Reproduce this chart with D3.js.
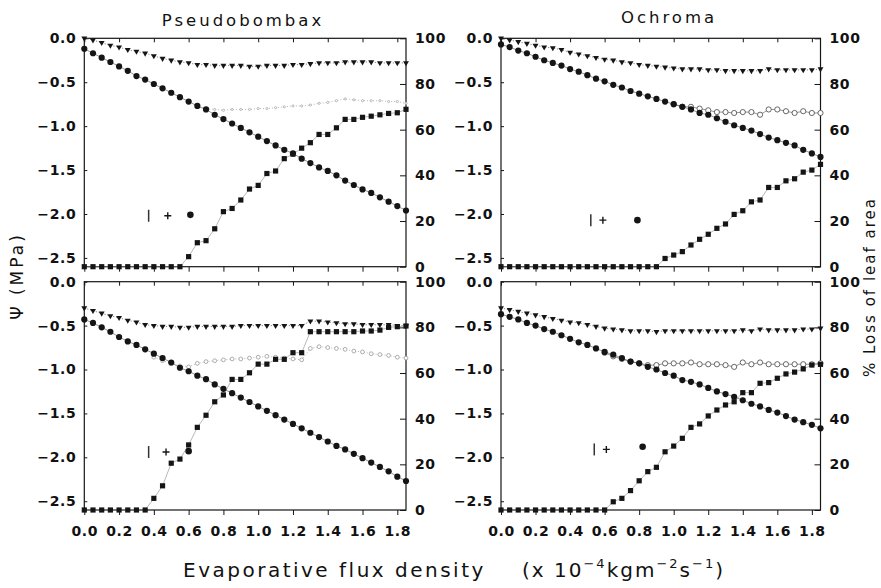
<!DOCTYPE html>
<html>
<head>
<meta charset="utf-8">
<script src="https://cdn.jsdelivr.net/npm/d3@7"></script>
<style>
  body { margin: 0; background: #fff; }
  svg { display: block; }
  text { font-family: "DejaVu Sans", sans-serif; fill: #111; }
</style>
</head>
<body>
<svg id="chart" width="881" height="588"></svg>
<script>
// Evaporative flux density (x 10^-4 kg m^-2 s^-1) at which each reading was taken
const flux = [0.00,0.05,0.10,0.15,0.20,0.25,0.30,0.35,0.40,0.45,0.50,0.55,0.60,0.65,0.70,0.75,0.80,0.85,0.90,0.95,
              1.00,1.05,1.10,1.15,1.20,1.25,1.30,1.35,1.40,1.45,1.50,1.55,1.60,1.65,1.70,1.75,1.80,1.85];

const fluxTicks = [0.0,0.2,0.4,0.6,0.8,1.0,1.2,1.4,1.6,1.8];
const psiTicks = [0.0,-0.5,-1.0,-1.5,-2.0,-2.5];
const lossTicks = [0,20,40,60,80,100];
const speciesNames = ["Pseudobombax", "Ochroma"];

// Pseudobombax, upper panel (Psi in MPa, loss in %)
const pseudoUpperTri = [0.00,-0.02,-0.05,-0.08,-0.10,-0.13,-0.15,-0.17,-0.20,-0.23,-0.25,-0.27,-0.28,-0.30,-0.30,-0.31,-0.31,-0.31,-0.31,-0.32,
                        -0.32,-0.31,-0.31,-0.31,-0.30,-0.30,-0.29,-0.28,-0.28,-0.28,-0.27,-0.27,-0.27,-0.27,-0.28,-0.28,-0.28,-0.28];
const pseudoUpperDot = [-0.12,-0.17,-0.22,-0.27,-0.32,-0.37,-0.43,-0.47,-0.52,-0.57,-0.62,-0.67,-0.72,-0.77,-0.81,-0.87,-0.92,-0.97,-1.02,-1.07,
                        -1.12,-1.17,-1.22,-1.27,-1.31,-1.37,-1.42,-1.47,-1.51,-1.56,-1.62,-1.67,-1.72,-1.76,-1.81,-1.86,-1.91,-1.96];
const pseudoUpperOpen = [null,null,null,null,null,null,null,null,null,null,null,null,null,-0.78,-0.80,-0.81,-0.82,-0.81,-0.81,-0.81,
                         -0.80,-0.80,-0.79,-0.78,-0.77,-0.77,-0.76,-0.74,-0.73,-0.71,-0.69,-0.70,-0.71,-0.71,-0.71,-0.72,-0.72,-0.74];
const pseudoUpperLoss = [0,0,0,0,0,0,0,0,0,0,0,0,4.4,10.5,11.4,16.6,24.1,25.5,29.2,34.0,
                         35.6,40.8,41.9,47.3,49.3,51.9,54.3,57.9,57.9,60.8,64.5,64.5,65.4,65.9,66.5,67.1,67.4,68.9];

// Ochroma, upper panel
const ochromaUpperTri = [0.00,-0.02,-0.04,-0.06,-0.08,-0.10,-0.11,-0.13,-0.16,-0.18,-0.20,-0.22,-0.24,-0.25,-0.27,-0.28,-0.30,-0.31,-0.32,-0.33,
                         -0.34,-0.35,-0.35,-0.35,-0.36,-0.36,-0.37,-0.37,-0.37,-0.37,-0.37,-0.35,-0.36,-0.36,-0.36,-0.36,-0.36,-0.35];
const ochromaUpperDot = [-0.07,-0.10,-0.14,-0.17,-0.21,-0.25,-0.28,-0.31,-0.35,-0.38,-0.42,-0.46,-0.49,-0.53,-0.56,-0.60,-0.63,-0.66,-0.69,-0.72,
                         -0.75,-0.78,-0.81,-0.85,-0.87,-0.91,-0.95,-0.99,-1.02,-1.05,-1.09,-1.13,-1.16,-1.19,-1.22,-1.27,-1.31,-1.35];
const ochromaUpperOpen = [null,null,null,null,null,null,null,null,null,null,null,null,null,null,null,null,null,null,null,null,
                          -0.75,-0.78,-0.78,-0.80,-0.82,-0.84,-0.84,-0.85,-0.84,-0.84,-0.87,-0.81,-0.81,-0.83,-0.85,-0.83,-0.85,-0.85];
const ochromaUpperLoss = [0,0,0,0,0,0,0,0,0,0,0,0,0,0,0,0,0,0,0,3.6,
                          5.1,6.6,9.5,12.0,14.2,16.8,18.7,22.9,24.5,28.4,29.2,34.7,34.7,37.6,38.5,41.4,42.3,44.8];

// Pseudobombax, lower panel
const pseudoLowerTri = [-0.30,-0.33,-0.36,-0.39,-0.41,-0.44,-0.46,-0.49,-0.50,-0.51,-0.51,-0.52,-0.52,-0.51,-0.51,-0.51,-0.51,-0.51,-0.50,-0.50,
                        -0.50,-0.50,-0.50,-0.50,-0.50,-0.50,-0.45,-0.45,-0.46,-0.47,-0.48,-0.48,-0.49,-0.49,-0.49,-0.49,-0.50,-0.50];
const pseudoLowerDot = [-0.43,-0.47,-0.52,-0.57,-0.63,-0.68,-0.72,-0.77,-0.82,-0.87,-0.92,-0.98,-1.02,-1.07,-1.11,-1.17,-1.22,-1.27,-1.32,-1.37,
                        -1.42,-1.47,-1.52,-1.57,-1.62,-1.67,-1.72,-1.77,-1.82,-1.87,-1.91,-1.96,-2.01,-2.06,-2.11,-2.16,-2.22,-2.27];
const pseudoLowerOpen = [null,null,null,null,null,null,null,null,-0.86,-0.90,-0.93,-0.96,-0.97,-0.93,-0.91,-0.90,-0.89,-0.88,-0.88,-0.87,
                         -0.86,-0.85,-0.86,-0.87,-0.88,-0.89,-0.76,-0.74,-0.75,-0.76,-0.77,-0.79,-0.80,-0.82,-0.83,-0.84,-0.86,-0.87];
const pseudoLowerLoss = [0,0,0,0,0,0,0,0,5.1,10.6,20.5,22.3,28.5,36.2,41.5,47.4,50.4,57.2,57.2,60.1,
                         63.9,63.9,66.0,66.0,68.9,68.9,78.1,78.1,78.1,78.1,78.1,78.1,78.4,78.4,78.8,80.0,80.3,80.6];

// Ochroma, lower panel
const ochromaLowerTri = [-0.30,-0.32,-0.34,-0.36,-0.38,-0.40,-0.42,-0.44,-0.46,-0.47,-0.49,-0.51,-0.53,-0.54,-0.55,-0.56,-0.56,-0.56,-0.57,-0.56,
                         -0.56,-0.56,-0.56,-0.56,-0.56,-0.56,-0.56,-0.56,-0.55,-0.56,-0.54,-0.55,-0.55,-0.55,-0.55,-0.54,-0.54,-0.53];
const ochromaLowerDot = [-0.37,-0.40,-0.43,-0.47,-0.50,-0.54,-0.57,-0.61,-0.65,-0.69,-0.72,-0.76,-0.80,-0.83,-0.87,-0.91,-0.93,-0.97,-1.00,-1.04,
                         -1.07,-1.12,-1.14,-1.17,-1.21,-1.25,-1.28,-1.31,-1.35,-1.39,-1.42,-1.46,-1.49,-1.53,-1.57,-1.60,-1.63,-1.67];
const ochromaLowerOpen = [null,null,null,null,null,null,null,null,null,null,null,null,-0.81,-0.85,-0.88,-0.91,-0.93,-0.95,-0.95,-0.93,
                          -0.93,-0.93,-0.92,-0.94,-0.94,-0.94,-0.95,-0.97,-0.92,-0.94,-0.92,-0.94,-0.94,-0.94,-0.94,-0.94,-0.94,-0.93];
const ochromaLowerLoss = [0,0,0,0,0,0,0,0,0,0,0,0,0,3.6,5.1,8.5,12.8,16.8,18.7,25.5,
                          28.0,31.4,36.2,37.7,41.2,43.8,46.0,47.4,51.4,51.4,55.5,55.8,57.7,59.6,60.4,61.8,63.5,63.8];

// Single reference marks in each panel (upper-left, upper-right, lower-left, lower-right)
const barMarkFlux  = [0.37, 0.52, 0.37, 0.54];
const barMarkPsi   = [-2.02, -2.07, -1.94, -1.91];
const plusMarkFlux = [0.48, 0.59, 0.47, 0.61];
const plusMarkPsi  = [-2.02, -2.07, -1.94, -1.91];
const dotMarkFlux  = [0.61, 0.79, 0.60, 0.82];
const dotMarkPsi   = [-2.01, -2.07, -1.93, -1.88];

// ---- layout ----
const colRange = [[84.3, 406], [501, 820.5]];
const rowRange = [[38.3, 266.7], [281.7, 510]];

const panels = [
  { col: 0, row: 0, tri: pseudoUpperTri, dot: pseudoUpperDot, open: pseudoUpperOpen, loss: pseudoUpperLoss, openStyle: "faint" },
  { col: 1, row: 0, tri: ochromaUpperTri, dot: ochromaUpperDot, open: ochromaUpperOpen, loss: ochromaUpperLoss, openStyle: "ring" },
  { col: 0, row: 1, tri: pseudoLowerTri, dot: pseudoLowerDot, open: pseudoLowerOpen, loss: pseudoLowerLoss, openStyle: "light" },
  { col: 1, row: 1, tri: ochromaLowerTri, dot: ochromaLowerDot, open: ochromaLowerOpen, loss: ochromaLowerLoss, openStyle: "ring" }
];

const svg = d3.select("#chart");
svg.append("rect").attr("width", 881).attr("height", 588).attr("fill", "#fff");

const ink = "#151515";
const fmt1 = d3.format(".1f");

panels.forEach((p, k) => {
  const [x0, x1] = colRange[p.col];
  const [y0, y1] = rowRange[p.row];
  const x = d3.scaleLinear().domain([0, 1.85]).range([x0, x1]);
  const yPsi = d3.scaleLinear().domain([-2.6, 0]).range([y1, y0]);
  const yLoss = d3.scaleLinear().domain([0, 100]).range([y1, y0]);

  const g = svg.append("g");

  // axes
  const styleAxis = sel => {
    sel.select(".domain").remove();
    sel.selectAll(".tick line").attr("stroke", ink).attr("stroke-width", 1);
    sel.selectAll(".tick text")
      .attr("fill", ink)
      .style("font-family", '"DejaVu Sans", sans-serif')
      .style("font-size", "14px")
      .style("font-weight", "bold")
      .style("letter-spacing", "0.6px");
  };

  g.append("g").attr("transform", `translate(${x0},0)`)
    .call(d3.axisLeft(yPsi).tickValues(psiTicks).tickSize(-3).tickPadding(8).tickFormat(fmt1))
    .call(styleAxis);

  g.append("g").attr("transform", `translate(${x1},0)`)
    .call(d3.axisRight(yLoss).tickValues(lossTicks).tickSize(-6).tickPadding(9).tickFormat(d3.format("d")))
    .call(styleAxis);

  g.append("g").attr("transform", `translate(0,${y1})`)
    .call(d3.axisBottom(x).tickValues(fluxTicks).tickSize(5).tickPadding(11)
      .tickFormat(p.row === 1 ? fmt1 : () => ""))
    .call(styleAxis);

  g.append("g").attr("transform", `translate(0,${y0})`)
    .call(d3.axisTop(x).tickValues(fluxTicks).tickSize(-4).tickFormat(() => ""))
    .call(styleAxis);

  // frame
  g.append("rect")
    .attr("x", x0).attr("y", y0)
    .attr("width", x1 - x0).attr("height", y1 - y0)
    .attr("fill", "none").attr("stroke", ink).attr("stroke-width", 1.2);

  const pts = arr => flux.map((f, i) => [f, arr[i]]).filter(d => d[1] !== null);

  const linePsi = d3.line().x(d => x(d[0])).y(d => yPsi(d[1]));
  const lineLoss = d3.line().x(d => x(d[0])).y(d => yLoss(d[1]));

  // connecting lines
  g.append("path").datum(pts(p.tri)).attr("d", linePsi)
    .attr("fill", "none").attr("stroke", "#555").attr("stroke-width", 0.7).attr("stroke-dasharray", "1.2,1.8");
  g.append("path").datum(pts(p.dot)).attr("d", linePsi)
    .attr("fill", "none").attr("stroke", "#666").attr("stroke-width", 0.7);
  const openPts = pts(p.open);
  g.append("path").datum(openPts).attr("d", linePsi)
    .attr("fill", "none")
    .attr("stroke", p.openStyle === "ring" ? "#666" : "#999")
    .attr("stroke-width", 0.7)
    .attr("stroke-dasharray", p.openStyle === "ring" ? null : "1,2");
  g.append("path").datum(pts(p.loss)).attr("d", lineLoss)
    .attr("fill", "none").attr("stroke", "#888").attr("stroke-width", 0.6);

  // open circles (branch readings)
  const openR = { faint: 1.1, light: 1.9, ring: 2.6 }[p.openStyle];
  const openC = { faint: "#aaa", light: "#999", ring: "#444" }[p.openStyle];
  g.selectAll(".open").data(openPts).join("circle")
    .attr("cx", d => x(d[0])).attr("cy", d => yPsi(d[1])).attr("r", openR)
    .attr("fill", "#fff").attr("stroke", openC).attr("stroke-width", 0.8);

  // filled circles
  g.selectAll(".dot").data(pts(p.dot)).join("circle")
    .attr("cx", d => x(d[0])).attr("cy", d => yPsi(d[1])).attr("r", 3.1)
    .attr("fill", ink);

  // squares: % loss of leaf area
  const sq = d3.symbol(d3.symbolSquare, 27);
  g.selectAll(".sq").data(pts(p.loss)).join("path")
    .attr("d", sq)
    .attr("transform", d => `translate(${x(d[0])},${yLoss(d[1])})`)
    .attr("fill", ink);

  // downward triangles
  const tri = d3.symbol(d3.symbolTriangle, 15);
  g.selectAll(".tri").data(pts(p.tri)).join("path")
    .attr("d", tri)
    .attr("transform", d => `translate(${x(d[0])},${yPsi(d[1])}) rotate(180)`)
    .attr("fill", ink);

  // single reference marks: bar, plus, dot
  const bx = x(barMarkFlux[k]), by = yPsi(barMarkPsi[k]);
  g.append("line").attr("x1", bx).attr("x2", bx).attr("y1", by - 6).attr("y2", by + 6)
    .attr("stroke", "#333").attr("stroke-width", 1.5);
  const px = x(plusMarkFlux[k]), py = yPsi(plusMarkPsi[k]);
  g.append("path").attr("d", `M${px - 3.5},${py}H${px + 3.5}M${px},${py - 3.5}V${py + 3.5}`)
    .attr("stroke", ink).attr("stroke-width", 1.4);
  g.append("circle").attr("cx", x(dotMarkFlux[k])).attr("cy", yPsi(dotMarkPsi[k])).attr("r", 3.3)
    .attr("fill", ink);
});

// panel titles
svg.append("text").attr("x", 243).attr("y", 26).attr("text-anchor", "middle")
  .style("font-size", "16.5px").style("letter-spacing", "3px").text(speciesNames[0]);
svg.append("text").attr("x", 669).attr("y", 23).attr("text-anchor", "middle")
  .style("font-size", "16.5px").style("letter-spacing", "3px").text(speciesNames[1]);

// left axis title
svg.append("text").attr("transform", "translate(23,276) rotate(-90)").attr("text-anchor", "middle")
  .style("font-size", "17px").style("letter-spacing", "3px").text("\u03A8 (MPa)");

// right axis title
svg.append("text").attr("transform", "translate(875,287) rotate(-90)").attr("text-anchor", "middle")
  .style("font-size", "15px").style("letter-spacing", "2px").text("% Loss of leaf area");

// x axis title
svg.append("text").attr("x", 183).attr("y", 577)
  .style("font-size", "20px").style("letter-spacing", "2.5px").text("Evaporative flux density");

const unit = svg.append("text").attr("x", 522).attr("y", 577)
  .style("font-size", "20px").style("letter-spacing", "2px");
unit.append("tspan").text("(x 10");
unit.append("tspan").attr("dy", -9).style("font-size", "13px").text("\u22124");
unit.append("tspan").attr("dy", 9).text("kgm");
unit.append("tspan").attr("dy", -9).style("font-size", "13px").text("\u22122");
unit.append("tspan").attr("dy", 9).text("s");
unit.append("tspan").attr("dy", -9).style("font-size", "13px").text("\u22121");
unit.append("tspan").attr("dy", 9).text(")");
</script>
</body>
</html>
